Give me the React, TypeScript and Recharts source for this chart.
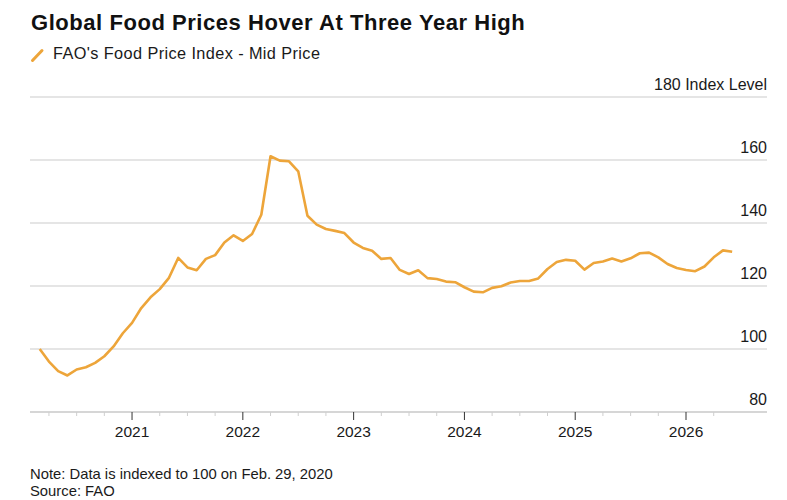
import React from "react";
import { LineChart, Line, XAxis, YAxis, CartesianGrid } from "recharts";

const MONTHS: string[] = [
  "2020-02", "2020-03", "2020-04", "2020-05", "2020-06", "2020-07", "2020-08", "2020-09", "2020-10", "2020-11", "2020-12",
  "2021-01", "2021-02", "2021-03", "2021-04", "2021-05", "2021-06", "2021-07", "2021-08", "2021-09", "2021-10", "2021-11", "2021-12",
  "2022-01", "2022-02", "2022-03", "2022-04", "2022-05", "2022-06", "2022-07", "2022-08", "2022-09", "2022-10", "2022-11", "2022-12",
  "2023-01", "2023-02", "2023-03", "2023-04", "2023-05", "2023-06", "2023-07", "2023-08", "2023-09", "2023-10", "2023-11", "2023-12",
  "2024-01", "2024-02", "2024-03", "2024-04", "2024-05", "2024-06", "2024-07", "2024-08", "2024-09", "2024-10", "2024-11", "2024-12",
  "2025-01", "2025-02", "2025-03", "2025-04", "2025-05", "2025-06", "2025-07", "2025-08", "2025-09", "2025-10", "2025-11", "2025-12",
  "2026-01", "2026-02", "2026-03", "2026-04", "2026-05",
];

const FOOD_PRICE_INDEX: number[] = [
  100.0, 96.0, 93.0, 91.6, 93.5, 94.2, 95.6, 97.7, 100.8, 105.0, 108.3,
  113.0, 116.4, 119.0, 122.6, 128.9, 125.9, 125.0, 128.6, 129.8, 133.8, 136.1, 134.3,
  136.5, 142.6, 161.2, 159.8, 159.6, 156.4, 142.3, 139.5, 138.1, 137.5, 136.8, 133.8,
  132.1, 131.2, 128.6, 128.9, 125.1, 123.8, 125.0, 122.5, 122.2, 121.4, 121.2, 119.6,
  118.2, 118.0, 119.4, 119.9, 121.1, 121.6, 121.6, 122.4, 125.4, 127.6, 128.3, 128.0,
  125.2, 127.3, 127.8, 128.7, 127.8, 128.8, 130.4, 130.6, 129.1, 127.0, 125.7, 125.1,
  124.7, 126.2, 129.1, 131.3, 130.9,
];

const YEAR_LABELS: number[] = [2021, 2022, 2023, 2024, 2025, 2026];
const Y_TICKS: number[] = [80, 100, 120, 140, 160, 180];

const TITLE = "Global Food Prices Hover At Three Year High";
const SERIES_NAME = "FAO's Food Price Index - Mid Price";
const NOTE = "Note: Data is indexed to 100 on Feb. 29, 2020";
const SOURCE = "Source: FAO";

const FONT = "'Liberation Sans', Arial, Helvetica, sans-serif";
const LINE_COLOR = "#EDA53A";
const TEXT_COLOR = "#1a1a1a";

// month-end position in fractional years
const data = MONTHS.map((m, i) => {
  const [y, mo] = m.split("-").map(Number);
  return { t: y + mo / 12, value: FOOD_PRICE_INDEX[i] };
});

// quarterly ticks; labels only at year starts
const xTicks: number[] = [];
for (let y = YEAR_LABELS[0] - 1; y <= YEAR_LABELS[YEAR_LABELS.length - 1]; y++) {
  for (let q = 0; q < 4; q++) {
    const v = y + q / 4;
    if (v > YEAR_LABELS[0] - 1 && v <= YEAR_LABELS[YEAR_LABELS.length - 1] + 0.25) xTicks.push(v);
  }
}

const XTick = (props: any) => {
  const { x, y, payload } = props;
  const v = payload.value;
  const isYear = Math.abs(v - Math.round(v)) < 1e-6 && YEAR_LABELS.includes(Math.round(v));
  return (
    <g>
      <line x1={x} x2={x} y1={y} y2={y + (isYear ? 8 : 4)} stroke={isYear ? "#333" : "#cfcfcf"} strokeWidth={1} />
      {isYear && (
        <text x={x} y={y + 25} textAnchor="middle" fontSize={15.5} fill={TEXT_COLOR} fontFamily={FONT}>
          {Math.round(v)}
        </text>
      )}
    </g>
  );
};

const YTick = (props: any) => {
  const { x, y, payload } = props;
  const v = payload.value;
  const label = v === Y_TICKS[Y_TICKS.length - 1] ? `${v} Index Level` : `${v}`;
  return (
    <text x={x} y={y - 7.5} textAnchor="end" fontSize={16} fill={TEXT_COLOR} fontFamily={FONT}>
      {label}
    </text>
  );
};

export default function App() {
  return (
    <div style={{ position: "absolute", left: 0, top: 0, width: 787, height: 500, background: "#fff" }}>
      <LineChart
        width={787}
        height={500}
        data={data}
        margin={{ top: 97, right: 0, bottom: 48, left: 30 }}
      >
        <CartesianGrid horizontal={true} vertical={false} stroke="#dcdcdc" strokeWidth={1.5} />
        <XAxis
          dataKey="t"
          type="number"
          domain={[2020.079, 2026.731]}
          ticks={xTicks}
          interval={0}
          height={40}
          tickSize={0}
          tickMargin={0}
          tickLine={false}
          axisLine={{ stroke: "#d0d0d0", strokeWidth: 1.5 }}
          tick={(p: any) => <XTick {...p} />}
          allowDataOverflow
        />
        <YAxis
          orientation="right"
          type="number"
          domain={[80, 180]}
          ticks={Y_TICKS}
          interval={0}
          width={20}
          tickSize={0}
          tickMargin={0}
          tickLine={false}
          axisLine={false}
          tick={(p: any) => <YTick {...p} />}
        />
        <Line
          type="linear"
          dataKey="value"
          stroke={LINE_COLOR}
          strokeWidth={2.6}
          dot={false}
          isAnimationActive={false}
          strokeLinejoin="round"
        />
      </LineChart>
      <svg
        width={787}
        height={500}
        style={{ position: "absolute", left: 0, top: 0, pointerEvents: "none" }}
      >
        <text x={31} y={29.5} fontSize={22} letterSpacing={0.55} fontWeight={700} fill="#111" fontFamily={FONT}>
          {TITLE}
        </text>
        <line x1={32.5} y1={60.5} x2={42} y2={50.5} stroke={LINE_COLOR} strokeWidth={3} strokeLinecap="round" />
        <text x={53} y={59.3} fontSize={16.3} letterSpacing={0.4} fill={TEXT_COLOR} fontFamily={FONT}>
          {SERIES_NAME}
        </text>
        <text x={30} y={479} fontSize={14.8} fill={TEXT_COLOR} fontFamily={FONT}>
          {NOTE}
        </text>
        <text x={30} y={496} fontSize={14.8} fill={TEXT_COLOR} fontFamily={FONT}>
          {SOURCE}
        </text>
      </svg>
    </div>
  );
}
